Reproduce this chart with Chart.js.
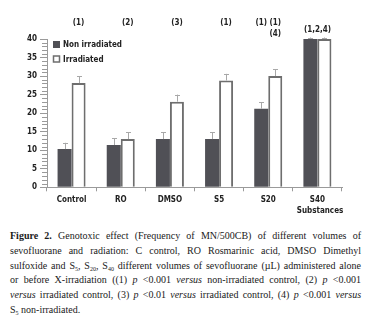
<!DOCTYPE html>
<html>
<head>
<meta charset="utf-8">
<script src="https://cdn.jsdelivr.net/npm/chart.js@4"></script>
<style>
  body { margin: 0; background: #fff; width: 370px; height: 319px; overflow: hidden; position: relative; }
  #wrap { position: absolute; left: 0; top: 0; width: 370px; height: 220px; }
  #caption {
    position: absolute; left: 10px; top: 229px; width: 351px;
    font-family: 'Liberation Serif', serif; font-size: 10px; line-height: 14.8px; color: #1a1a1a;
  }
  #caption div { text-align: justify; text-align-last: justify; white-space: nowrap; }
  #caption div.last { text-align-last: left; }
  #caption i { font-style: italic; }
  #caption sub { font-size: 6px; vertical-align: -2px; line-height: 0; }
</style>
</head>
<body>
<div id="wrap"><canvas id="chart" width="370" height="220"></canvas></div>
<div id="caption">
  <div><b>Figure 2.</b> Genotoxic effect (Frequency of MN/500CB) of different volumes of</div>
  <div>sevofluorane and radiation: C control, RO Rosmarinic acid, DMSO Dimethyl</div>
  <div>sulfoxide and S<sub>5</sub>, S<sub>20</sub>, S<sub>40</sub> different volumes of sevofluorane (µL) administered alone</div>
  <div>or before X-irradiation ((1) <i>p</i> &lt;0.001 <i>versus</i> non-irradiated control, (2) <i>p</i> &lt;0.001</div>
  <div><i>versus</i> irradiated control, (3) <i>p</i> &lt;0.01 <i>versus</i> irradiated control, (4) <i>p</i> &lt;0.001 <i>versus</i></div>
  <div class="last">S<sub>5</sub> non-irradiated.</div>
</div>
<script>
const categories = ['Control', 'RO', 'DMSO', 'S5', 'S20', 'S40'];
const nonIrradiated = [10.3, 11.4, 13.0, 13.0, 21.2, 40];
const nonIrradiatedErr = [12.0, 13.2, 14.9, 14.9, 22.9, 40.4];
const irradiated = [28.1, 13.0, 23.1, 28.8, 30.0, 40];
const irradiatedErr = [30.0, 14.9, 25.0, 30.6, 31.9, 40.4];
const sigNon = ['', '', '', '', '(1)', ''];
const sigIrr = ['(1)', '(2)', '(3)', '(1)', '(1)', ''];
const sigIrr2 = ['', '', '', '', '(4)', ''];
const sigGroup = ['', '', '', '', '', '(1,2,4)'];

const FONT = "'DejaVu Sans Condensed', 'Liberation Sans Narrow', 'Roboto', sans-serif";
const DARK = '#505056';
const EDGE = '#6e6e6e';

const extras = {
  id: 'extras',
  afterDatasetsDraw(chart) {
    const { ctx, chartArea: { left }, scales: { y } } = chart;
    ctx.save();

    // minor ticks on y axis
    ctx.strokeStyle = '#9a9a9a';
    ctx.lineWidth = 1;
    for (let v = 0; v <= 40; v++) {
      if (v % 5 === 0) continue;
      const py = Math.round(y.getPixelForValue(v)) + 0.5;
      ctx.beginPath();
      ctx.moveTo(left - 5, py);
      ctx.lineTo(left, py);
      ctx.stroke();
    }

    // error bars (upward only)
    const errs = [nonIrradiatedErr, irradiatedErr];
    const vals = [nonIrradiated, irradiated];
    ctx.strokeStyle = '#a8a8a8';
    errs.forEach((arr, di) => {
      const meta = chart.getDatasetMeta(di);
      meta.data.forEach((bar, i) => {
        const x = Math.round(bar.x) + 0.5;
        const y0 = y.getPixelForValue(vals[di][i]);
        const y1 = y.getPixelForValue(arr[i]);
        ctx.beginPath();
        ctx.moveTo(x, y0);
        ctx.lineTo(x, y1);
        ctx.moveTo(x - 2.5, Math.round(y1) + 0.5);
        ctx.lineTo(x + 2.5, Math.round(y1) + 0.5);
        ctx.stroke();
      });
    });

    // significance labels
    ctx.fillStyle = '#222';
    ctx.font = 'bold 8px ' + FONT;
    ctx.textAlign = 'center';
    ctx.textBaseline = 'middle';
    const m0 = chart.getDatasetMeta(0).data;
    const m1 = chart.getDatasetMeta(1).data;
    categories.forEach((c, i) => {
      if (sigNon[i]) ctx.fillText(sigNon[i], m0[i].x, 23);
      if (sigIrr[i]) ctx.fillText(sigIrr[i], m1[i].x, 23);
      if (sigIrr2[i]) ctx.fillText(sigIrr2[i], m1[i].x, 34);
      if (sigGroup[i]) ctx.fillText(sigGroup[i], (m0[i].x + m1[i].x) / 2, 30);
    });

    // legend
    ctx.textAlign = 'left';
    ctx.fillStyle = DARK;
    ctx.fillRect(53, 41, 7, 7);
    ctx.strokeStyle = EDGE;
    ctx.lineWidth = 1.5;
    ctx.fillStyle = '#fff';
    ctx.fillRect(53.5, 56, 6, 6);
    ctx.strokeRect(53.5, 56, 6, 6);
    ctx.fillStyle = '#222';
    ctx.fillText(chart.data.datasets[0].label, 63, 45);
    ctx.fillText(chart.data.datasets[1].label, 63, 59.5);

    // axis title
    ctx.textAlign = 'center';
    ctx.fillText('Substances', 320, 210.5);
    ctx.restore();
  }
};

new Chart(document.getElementById('chart'), {
  type: 'bar',
  data: {
    labels: categories,
    datasets: [
      {
        label: 'Non irradiated',
        data: nonIrradiated,
        backgroundColor: DARK,
        borderWidth: 0,
        categoryPercentage: 0.57,
        barPercentage: 1
      },
      {
        label: 'Irradiated',
        data: irradiated,
        backgroundColor: '#ffffff',
        borderColor: EDGE,
        borderWidth: 2,
        categoryPercentage: 0.57,
        barPercentage: 1
      }
    ]
  },
  options: {
    responsive: false,
    animation: false,
    layout: { padding: { left: 0, top: 39, right: 28, bottom: 0 } },
    plugins: { legend: { display: false }, tooltip: { enabled: false } },
    scales: {
      x: {
        grid: { drawOnChartArea: false, tickLength: 4, color: '#9a9a9a', offset: true },
        border: { color: '#9a9a9a' },
        ticks: { color: '#222', font: { family: FONT, size: 8, weight: 'bold' }, padding: 4, maxRotation: 0 },
        afterFit(scale) { scale.height = 32.7; }
      },
      y: {
        min: 0,
        max: 40,
        ticks: { stepSize: 5, color: '#222', font: { family: FONT, size: 8, weight: 'bold' }, padding: 3 },
        grid: { drawOnChartArea: false, tickLength: 7, color: '#9a9a9a' },
        border: { color: '#9a9a9a' },
        afterFit(scale) { scale.width = 47; }
      }
    }
  },
  plugins: [extras]
});
</script>
</body>
</html>
